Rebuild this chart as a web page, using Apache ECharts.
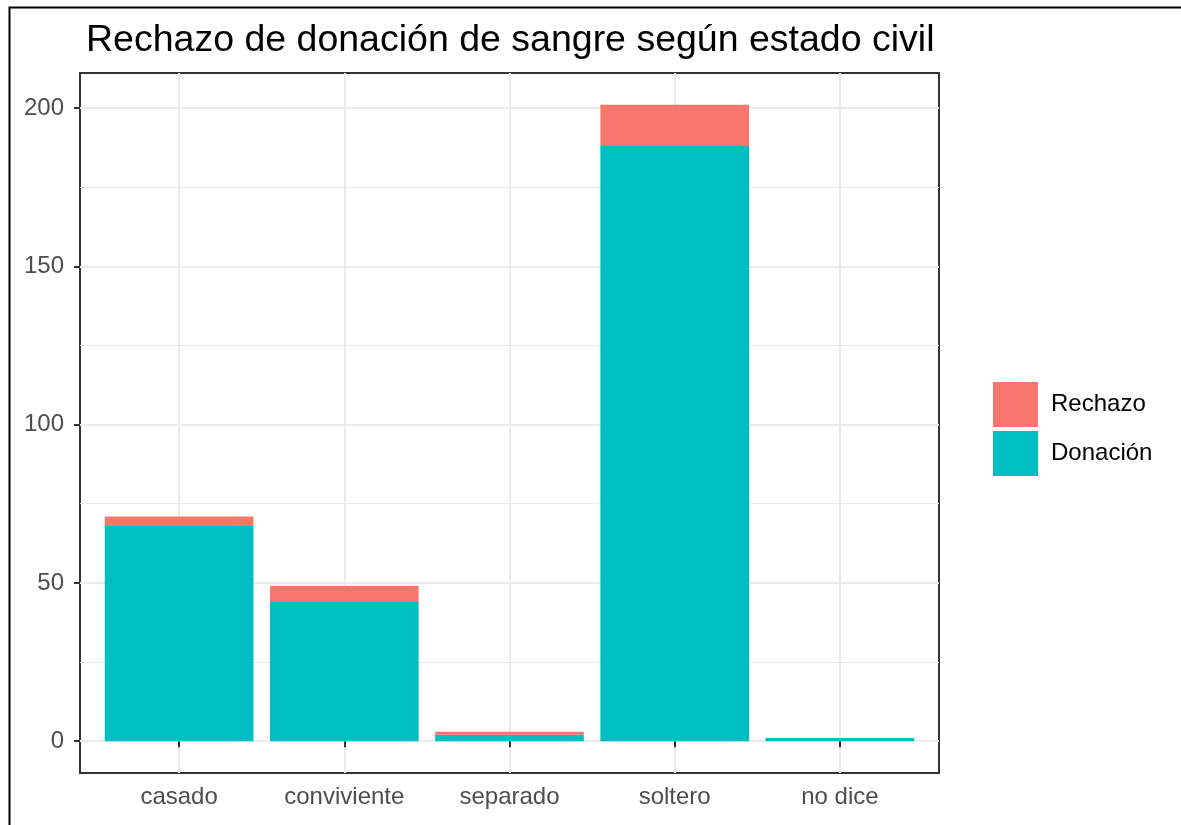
<!DOCTYPE html>
<html>
<head>
<meta charset="utf-8">
<script src="https://cdn.jsdelivr.net/npm/echarts@6/dist/echarts.min.js"></script>
<style>html,body{margin:0;padding:0;background:#fff;}#c{width:1181px;height:825px;}</style>
</head>
<body>
<div id="c"></div>
<script>
const categories = ['casado', 'conviviente', 'separado', 'soltero', 'no dice'];
const donacion = [68, 44, 2, 188, 1];
const rechazo = [3, 5, 1, 13, 0];
const yTicks = [0, 50, 100, 150, 200];
const yMinor = [25, 75, 125, 175];
const titleText = 'Rechazo de donación de sangre según estado civil';

const total = donacion.map((d, i) => d + rechazo[i]);
const maxTotal = Math.max(...total);
const yPad = maxTotal * 0.05;

const W = 1181;
const P_LEFT = 80, P_RIGHT = 242, P_TOP = 73, P_BOTTOM = 52;
const unit = (W - P_LEFT - P_RIGHT) / (categories.length + 0.2);
const inset = 0.1 * unit;

const chart = echarts.init(document.getElementById('c'), null, {renderer: 'canvas'});
const FONT = 'Liberation Sans, Arial, sans-serif';
const gridColor = '#ebebeb';

const hLines = [];
yTicks.forEach(v => hLines.push({yAxis: v, lineStyle: {width: 2, color: gridColor, type: 'solid'}}));
yMinor.forEach(v => hLines.push({yAxis: v, lineStyle: {width: 1, color: gridColor, type: 'solid'}}));
const vLines = categories.map(c => ({xAxis: c, lineStyle: {width: 2, color: gridColor, type: 'solid'}}));

chart.setOption({
  backgroundColor: '#ffffff',
  animation: false,
  textStyle: {fontFamily: FONT},
  graphic: [{
    type: 'rect', left: 7, top: 5, silent: true, z: 100,
    shape: {width: 1300, height: 1000},
    style: {fill: 'none', stroke: '#000', lineWidth: 2}
  }],
  title: {
    text: titleText, left: 81, top: 17,
    textStyle: {fontFamily: FONT, fontSize: 37.5, fontWeight: 'normal', color: '#000'}
  },
  legend: {
    orient: 'vertical', left: 988, top: 377,
    itemWidth: 45, itemHeight: 45, itemGap: 4,
    icon: 'rect',
    data: ['Rechazo', 'Donación'],
    textStyle: {fontFamily: FONT, fontSize: 24, color: '#000', padding: [0, 0, 0, 8]}
  },
  grid: [
    {left: P_LEFT, right: P_RIGHT, top: P_TOP, bottom: P_BOTTOM,
     show: true, borderColor: '#333', borderWidth: 2, backgroundColor: 'transparent'},
    {left: P_LEFT + inset, right: P_RIGHT + inset, top: P_TOP, bottom: P_BOTTOM}
  ],
  xAxis: [
    {gridIndex: 0, type: 'value', min: 0, max: 1, show: false},
    {
      gridIndex: 1, type: 'category', data: categories, boundaryGap: true,
      axisLine: {show: false},
      splitLine: {show: false},
      axisTick: {show: true, alignWithLabel: true, length: 6, lineStyle: {color: '#333', width: 2}},
      axisLabel: {margin: 12, fontFamily: FONT, fontSize: 24, color: '#4d4d4d'}
    }
  ],
  yAxis: [
    {
      gridIndex: 0, type: 'value', min: -yPad, max: maxTotal + yPad,
      splitLine: {show: false},
      axisLine: {show: false},
      axisTick: {show: true, customValues: yTicks, length: 6, lineStyle: {color: '#333', width: 2}},
      axisLabel: {customValues: yTicks, margin: 16, fontFamily: FONT, fontSize: 24, color: '#4d4d4d'}
    },
    {gridIndex: 1, type: 'value', min: -yPad, max: maxTotal + yPad, show: false, splitLine: {show: false}}
  ],
  series: [
    {
      type: 'line', xAxisIndex: 0, yAxisIndex: 0, data: [], silent: true,
      markLine: {silent: true, symbol: 'none', z: 0, label: {show: false}, data: hLines, animation: false}
    },
    {
      type: 'line', xAxisIndex: 1, yAxisIndex: 1, data: [], silent: true,
      markLine: {silent: true, symbol: 'none', z: 0, label: {show: false}, data: vLines, animation: false}
    },
    {
      name: 'Donación', type: 'bar', stack: 'total', barWidth: '90%', z: 3,
      xAxisIndex: 1, yAxisIndex: 1,
      itemStyle: {color: '#00BFC4'},
      data: donacion
    },
    {
      name: 'Rechazo', type: 'bar', stack: 'total', barWidth: '90%', z: 3,
      xAxisIndex: 1, yAxisIndex: 1,
      itemStyle: {color: '#F8766D'},
      data: rechazo
    }
  ]
});
</script>
</body>
</html>
